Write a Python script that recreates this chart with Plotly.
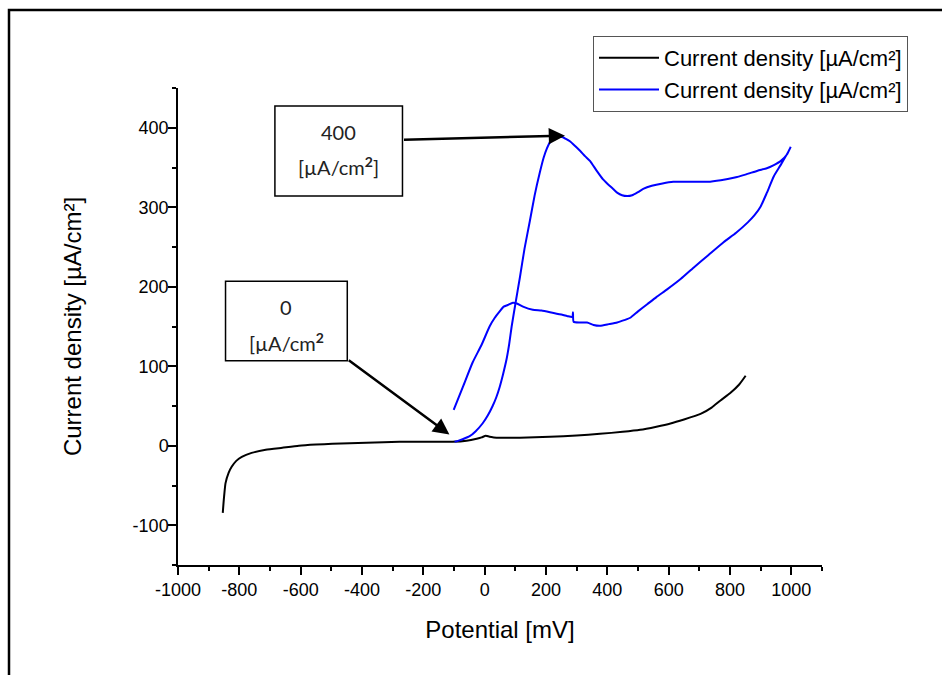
import plotly.graph_objects as go

# ---------------- data ----------------
black_x = [-854, -850, -845, -835, -825, -810, -792, -760, -714, -660, -606, -550,
           -497, -440, -386, -330, -278, -220, -170, -105, -59, -26, -10, 3, 8, 16,
           30, 49, 115, 213, 300, 376, 450, 507, 560, 606, 650, 704, 740, 769, 800,
           830, 851]
black_y = [-84.5, -65, -47, -34, -26.5, -19, -14, -9, -5, -2.5, 0, 1.5,
           2.5, 3.2, 3.8, 4.3, 5.0, 5.0, 5.0, 5.0, 6.3, 8.8, 10.5, 12.6, 12.2, 11.3,
           10.5, 10.1, 10.1, 11.3, 13, 15, 17.5, 20, 24, 28, 33, 40, 48, 57, 66,
           77, 88]

blue_x = [-98, -85, -70, -49, -30, -7, 10, 26, 38, 49, 60, 72, 80, 88, 100, 115,
          130, 147, 163, 180, 192, 203, 213, 223, 240, 255, 265, 278, 295, 311, 328,
          344, 365, 386, 402, 419, 433, 448, 465, 481, 500, 517, 545, 580, 615, 650,
          690, 727, 770, 812, 850, 890, 920, 943, 965, 985, 998,
          989, 965, 943, 920, 900, 880, 858, 820, 779, 730, 681, 640, 596, 560, 530,
          500, 475, 455, 432, 405, 376, 355, 334, 310, 290, 288, 286, 270, 250, 213,
          185, 157, 125, 105, 92, 75, 62, 49, 33, 16, -10, -39, -70, -101]
blue_y = [5, 6.5, 8.5, 12, 18, 28, 38, 50, 61, 74, 90, 110, 128, 150, 178, 212,
          248, 282, 315, 344, 362, 374, 382, 386, 389, 388, 386, 383, 377, 371, 364,
          358, 346, 335, 329, 323, 318, 315, 314, 315, 319, 323, 327, 330, 332, 332,
          332, 332, 334, 337, 341, 346, 349, 353, 358, 366, 376,
          369, 353, 339, 318, 301, 290, 281, 268, 256, 240, 224, 210, 197, 187, 178,
          169, 161, 158, 155, 153, 151, 152, 155, 155, 156, 168, 162, 163, 165, 168,
          170, 171, 175, 179, 180, 177, 175, 169, 161, 150, 127, 105, 75, 45]

series_name = "Current density [µA/cm²]"
x_title = "Potential [mV]"
y_title = "Current density [µA/cm²]"
x_ticks = [-1000, -800, -600, -400, -200, 0, 200, 400, 600, 800, 1000]
y_ticks = [-100, 0, 100, 200, 300, 400]

# annotation boxes (data coordinates)
box1 = dict(x0=-684, x1=-268, y0=314, y1=427.5)
box1_lines = [("400", 395), ("[µA/cm<sup><b>2</b></sup>]", 352)]
box1_arrow = dict(ax=-268, ay=385, x=262, y=390)

box2 = dict(x0=-845, x1=-448, y0=107, y1=207)
box2_lines = [("0", 175), ("[µA/cm<sup><b>2</b></sup>", 131)]
box2_arrow = dict(ax=-448, ay=109, x=-115, y=14)

# ---------------- figure ----------------
W, H = 942, 675
L, R, T, B = 178, 120, 88, 110
pw, ph = W - L - R, H - T - B

fig = go.Figure()
fig.add_trace(go.Scatter(x=black_x, y=black_y, mode="lines", name=series_name,
                         line=dict(color="black", width=2, shape="spline",
                                   smoothing=0.5)))
fig.add_trace(go.Scatter(x=blue_x, y=blue_y, mode="lines", name=series_name,
                         line=dict(color="#0000ff", width=2, shape="spline",
                                   smoothing=0.5)))

axis_common = dict(showgrid=False, zeroline=False, showline=True, linecolor="black",
                   linewidth=1.5, ticks="outside", ticklen=8, tickwidth=1.5,
                   tickcolor="black", tickfont=dict(size=18, color="black"),
                   title_font=dict(size=24, color="black"))

fig.update_xaxes(range=[-1000, 1100], tickvals=x_ticks,
                 ticktext=[str(v) for v in x_ticks], title_text=x_title,
                 title_standoff=22,
                 minor=dict(dtick=100, tick0=0, ticks="outside", ticklen=4,
                            tickwidth=1.5, tickcolor="black", showgrid=False),
                 **axis_common)
fig.update_yaxes(range=[-150, 450], tickvals=y_ticks,
                 ticktext=[str(v) for v in y_ticks], title_text=y_title,
                 title_standoff=44, ticklabelstandoff=-4,
                 minor=dict(dtick=50, tick0=0, ticks="outside", ticklen=4,
                            tickwidth=1.5, tickcolor="black", showgrid=False),
                 **axis_common)

shapes = [
    # page frame (left + top visible)
    dict(type="rect", xref="paper", yref="paper",
         x0=(9 - L) / pw, x1=1.4, y0=-0.4, y1=(H - B - 10) / ph,
         line=dict(color="black", width=2.5), layer="above"),
]
for b in (box1, box2):
    shapes.append(dict(type="rect", xref="x", yref="y", **b,
                       line=dict(color="black", width=1.5), fillcolor="white",
                       layer="above"))

annotations = []
for b, lines in ((box1, box1_lines), (box2, box2_lines)):
    cx = (b["x0"] + b["x1"]) / 2
    for txt, yy in lines:
        annotations.append(dict(x=cx, y=yy, xref="x", yref="y", text=txt,
                                showarrow=False,
                                font=dict(family="Lato", size=20, color="#222")))
for a in (box1_arrow, box2_arrow):
    annotations.append(dict(x=a["x"], y=a["y"], ax=a["ax"], ay=a["ay"],
                            xref="x", yref="y", axref="x", ayref="y", text="",
                            showarrow=True, arrowhead=2, arrowsize=1.3,
                            arrowwidth=2.5, arrowcolor="black", standoff=0))

fig.update_layout(
    width=W, height=H,
    margin=dict(l=L, r=R, t=T, b=B, autoexpand=False),
    paper_bgcolor="white", plot_bgcolor="white",
    font=dict(family="Liberation Sans, Arial, sans-serif", color="black"),
    shapes=shapes, annotations=annotations,
    legend=dict(x=(593 - L) / pw, y=(H - B - 36) / ph, xanchor="left", yanchor="top",
                bgcolor="white", bordercolor="#555", borderwidth=1,
                itemwidth=60, tracegroupgap=0,
                font=dict(size=22, color="black")),
)

fig.write_html("out.html")
